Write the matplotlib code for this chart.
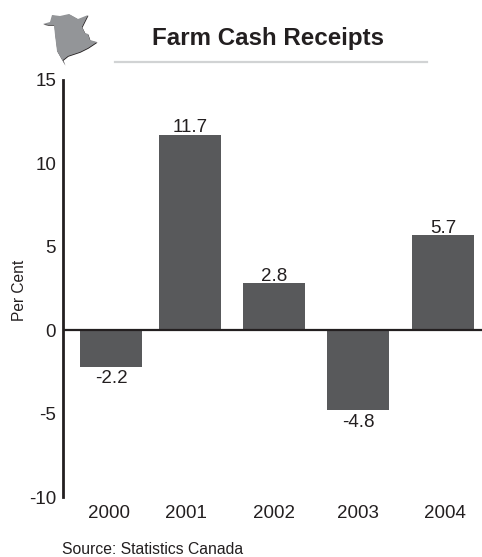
import matplotlib
matplotlib.use('Agg')
from matplotlib import pyplot as plt
from matplotlib.patches import Polygon

plt.rcParams['font.family'] = ['Liberation Sans', 'DejaVu Sans']

years = ['2000', '2001', '2002', '2003', '2004']
values = [-2.2, 11.7, 2.8, -4.8, 5.7]
value_labels = ['-2.2', '11.7', '2.8', '-4.8', '5.7']
y_ticks = [-10, -5, 0, 5, 10, 15]

W, H = 482, 557
# bar centres and year label centres, in pixels from the left of the image
bar_x = [111, 190, 274, 358, 443]
year_x = [109, 186, 274, 358, 445]
bar_w = 62
dark = '#58595b'
text_c = '#231f20'

fig = plt.figure(figsize=(W / 100, H / 100), dpi=100)
ax = fig.add_axes([0, 0, 1, 1])

# data axes placed so that 15 sits at y=80px and -10 at y=497px
left, right, top, bottom = 63, 482, 80, 497
ax.set_position([left / W, 1 - bottom / H, (right - left) / W, (bottom - top) / H])
ax.set_xlim(left, right)
ax.set_ylim(-10, 15)
ax.patch.set_alpha(0)

ax.bar(bar_x, values, width=bar_w, color=dark, zorder=2)
ax.axhline(0, color=text_c, lw=1.6, zorder=3)

for s in ['top', 'right', 'bottom']:
    ax.spines[s].set_visible(False)
ax.spines['left'].set_linewidth(2.0)
ax.spines['left'].set_color(text_c)

ax.set_xticks([])
ax.set_yticks(y_ticks)
ax.set_yticklabels([str(t) for t in y_ticks], fontsize=13.5, color=text_c)
ax.tick_params(axis='y', length=0, pad=5)
ax.set_ylabel('Per Cent', fontsize=11.2, color=text_c, labelpad=1, y=0.495)

for x, v, lab in zip(bar_x, values, value_labels):
    if v >= 0:
        ax.annotate(lab, (x, v), xytext=(0, -1), textcoords='offset points',
                    ha='center', va='bottom', fontsize=13.5, color=text_c, zorder=4)
    else:
        ax.annotate(lab, (x, v), xytext=(0, -2.5), textcoords='offset points',
                    ha='center', va='top', fontsize=13.5, color=text_c, zorder=4)

for x, lab in zip(year_x, years):
    fig.text(x / W, 1 - 513 / H, lab, ha='center', va='center', fontsize=13.5, color=text_c)

fig.text(268 / W, 1 - 38 / H, 'Farm Cash Receipts', ha='center', va='center',
         fontsize=17.4, fontweight='bold', color=text_c)
fig.add_artist(plt.Line2D([115 / W, 427 / W], [1 - 62 / H, 1 - 62 / H], color='#d1d3d4', lw=1.6))
fig.text(62 / W, 1 - 550 / H, 'Source: Statistics Canada', ha='left', va='center',
         fontsize=11.3, color=text_c)

# little province map, outline traced in pixels
outline = [(43, 24), (50, 22), (52, 15), (60, 16), (69, 14), (78, 19), (88, 15),
           (82, 27), (85, 33), (88, 34), (90, 40), (97, 42), (88, 48), (80, 52),
           (68, 56), (63, 60), (65, 65), (61, 58), (57, 51), (55, 35), (54, 25),
           (48, 25)]
to_fig = lambda pts, dx=0, dy=0: [((x + dx) / W, 1 - (y + dy) / H) for x, y in pts]
fig.add_artist(Polygon(to_fig(outline, 0.5, 0.7), closed=True, fc='#231f20', ec='none'))
fig.add_artist(Polygon(to_fig(outline), closed=True, fc='#939598', ec='none'))

fig.savefig('out.png', dpi=100)
